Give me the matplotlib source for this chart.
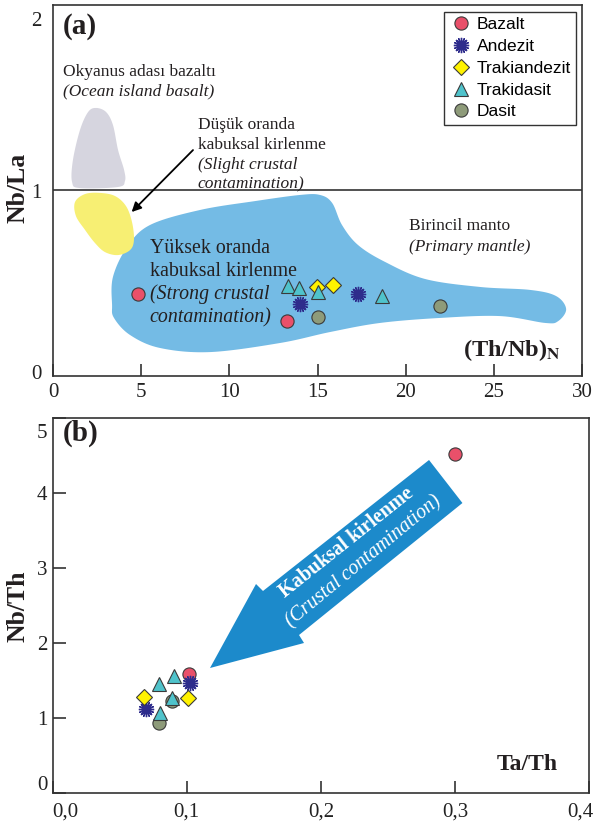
import numpy as np
import matplotlib
matplotlib.use("Agg")
import matplotlib.pyplot as plt
from matplotlib.patches import Polygon
from matplotlib.lines import Line2D
from matplotlib.transforms import ScaledTranslation

# ---------------- data ----------------
groups = ["Bazalt", "Andezit", "Trakiandezit", "Trakidasit", "Dasit"]

# panel (a): (Th/Nb)N vs Nb/La
a_bazalt_x = [4.84, 13.26]
a_bazalt_y = [0.442, 0.298]
a_andezit_x = [14.01, 17.32]
a_andezit_y = [0.387, 0.442]
a_trakiandezit_x = [14.99, 15.90]
a_trakiandezit_y = [0.478, 0.492]
a_trakidasit_x = [13.35, 13.97, 15.05, 18.64]
a_trakidasit_y = [0.485, 0.473, 0.451, 0.431]
a_dasit_x = [15.05, 21.95]
a_dasit_y = [0.320, 0.379]

# panel (b): Ta/Th vs Nb/Th
b_bazalt_x = [0.1017, 0.300]
b_bazalt_y = [1.587, 4.52]
b_andezit_x = [0.1024, 0.0694]
b_andezit_y = [1.462, 1.12]
b_trakiandezit_x = [0.0681, 0.1007]
b_trakiandezit_y = [1.276, 1.262]
b_trakidasit_x = [0.0907, 0.0795, 0.0888, 0.080]
b_trakidasit_y = [1.564, 1.453, 1.262, 1.07]
b_dasit_x = [0.0888, 0.0795]
b_dasit_y = [1.23, 0.929]

a_xticks = [0, 5, 10, 15, 20, 25, 30]
a_yticks = [0, 1, 2]
b_xticks = [0.0, 0.1, 0.2, 0.3, 0.4]
b_xticklabels = ["0,0", "0,1", "0,2", "0,3", "0,4"]
b_yticks = [0, 1, 2, 3, 4, 5]

# field outlines in data units of panel (a)
oib_x = [2.44, 3.01, 3.40, 3.69, 4.03, 4.08, 3.69, 1.53, 1.08, 1.13, 1.53, 1.99]
oib_y = [1.445, 1.423, 1.353, 1.218, 1.111, 1.051, 1.019, 1.013, 1.046, 1.164, 1.326, 1.423]
slight_x = [2.67, 3.52, 4.14, 4.48, 4.59, 4.37, 3.69, 2.95, 2.38, 1.82, 1.30, 1.25, 1.82]
slight_y = [0.987, 0.970, 0.916, 0.830, 0.733, 0.679, 0.652, 0.668, 0.717, 0.787, 0.863, 0.938, 0.981]
strong_x = [3.35, 3.40, 4.20, 5.50, 8.34, 11.46, 14.01, 15.14, 15.83, 16.39, 17.30, 18.83,
            21.10, 24.22, 27.06, 28.53, 29.10, 28.65, 27.91, 25.35, 21.95, 18.55, 15.71,
            12.88, 8.91, 6.07, 4.37, 3.46]
strong_y = [0.383, 0.534, 0.695, 0.814, 0.895, 0.943, 0.976, 0.976, 0.933, 0.814, 0.706, 0.615,
            0.523, 0.480, 0.464, 0.431, 0.361, 0.296, 0.286, 0.323, 0.313, 0.286, 0.237,
            0.178, 0.129, 0.151, 0.221, 0.313]

# contamination arrow of panel (b), in axes fractions
arrow_fx = [0.2933, 0.3791, 0.3921, 0.7017, 0.7640, 0.4593, 0.4686]
arrow_fy = [0.3333, 0.5573, 0.5387, 0.8880, 0.7733, 0.4213, 0.4000]

# ---------------- style ----------------
SERIF = ["Liberation Serif", "DejaVu Serif"]
SANS = ["Liberation Sans", "DejaVu Sans"]
plt.rcParams["font.family"] = SERIF
plt.rcParams["mathtext.fontset"] = "stix"
EDGE = "#3a3a3a"

styles = {
    "Bazalt": dict(marker="o", ms=9.5, mfc="#E9506A", mec=EDGE, mew=0.8),
    "Andezit": dict(marker=(16, 2, 0), ms=11, mfc="#2E2C8C", mec="#2E2C8C", mew=1.0),
    "Trakiandezit": dict(marker="D", ms=8.5, mfc="#FFF200", mec=EDGE, mew=0.8),
    "Trakidasit": dict(marker="^", ms=10, mfc="#4FC3CB", mec=EDGE, mew=0.8),
    "Dasit": dict(marker="o", ms=9.5, mfc="#8E9B7A", mec=EDGE, mew=0.8),
}


def smooth_closed(xs, ys, n=24):
    p = np.column_stack([xs, ys]).astype(float)
    N = len(p)
    t = np.linspace(0, 1, n, endpoint=False)[:, None]
    out = []
    for i in range(N):
        p0, p1, p2, p3 = p[i - 1], p[i], p[(i + 1) % N], p[(i + 2) % N]
        seg = 0.5 * ((2 * p1) + (-p0 + p2) * t + (2 * p0 - 5 * p1 + 4 * p2 - p3) * t ** 2
                     + (-p0 + 3 * p1 - 3 * p2 + p3) * t ** 3)
        out.append(seg)
    return np.vstack(out)


def shift_label(fig, lab, dx_px, dy_px):
    lab.set_transform(lab.get_transform() +
                      ScaledTranslation(dx_px / fig.dpi, dy_px / fig.dpi, fig.dpi_scale_trans))


W, H = 596, 830
fig = plt.figure(figsize=(W / 100, H / 100), dpi=100)
ax1 = fig.add_axes([53 / W, 1 - 376 / H, (582 - 53) / W, (376 - 5) / H])
ax2 = fig.add_axes([52.7 / W, 1 - 793 / H, (589 - 52.7) / W, (793 - 418) / H])

for ax in (ax1, ax2):
    for s in ax.spines.values():
        s.set_color("#333333")
        s.set_linewidth(1.2)
    ax.tick_params(direction="in", length=9, width=1.2, color="#333333",
                   labelsize=15, labelcolor="#222222")

# ---------------- panel (a) ----------------
ax1.set_xlim(0, 30)
ax1.set_ylim(0, 2)
ax1.add_patch(Polygon(smooth_closed(strong_x, strong_y), closed=True, fc="#74BBE5", ec="none", zorder=1))
ax1.add_patch(Polygon(smooth_closed(oib_x, oib_y), closed=True, fc="#D6D5DF", ec="none", zorder=1))
ax1.add_patch(Polygon(smooth_closed(slight_x, slight_y), closed=True, fc="#F7EF73", ec="none", zorder=1))
ax1.axhline(1, color="#222222", lw=1.1, zorder=2)

ax1.set_xticks(a_xticks)
ax1.set_xticklabels([str(v) for v in a_xticks])
ax1.set_yticks(a_yticks)
ax1.set_yticklabels([str(v) for v in a_yticks])
ax1.tick_params(axis="y", length=0, pad=8)
ax1.tick_params(axis="x", pad=5)

ax1.annotate("", xy=(4.46, 0.884), xytext=(7.94, 1.218),
             arrowprops=dict(arrowstyle="-|>", color="black", lw=1.3,
                             mutation_scale=14, shrinkA=0, shrinkB=0), zorder=3)

a_series = {
    "Bazalt": (a_bazalt_x, a_bazalt_y),
    "Andezit": (a_andezit_x, a_andezit_y),
    "Trakiandezit": (a_trakiandezit_x, a_trakiandezit_y),
    "Trakidasit": (a_trakidasit_x, a_trakidasit_y),
    "Dasit": (a_dasit_x, a_dasit_y),
}
for g in groups:
    xs, ys = a_series[g]
    ax1.plot(xs, ys, ls="none", zorder=4, label=g, **styles[g])

tc = "#231F20"
ax1.text(0.019, 0.943, "(a)", transform=ax1.transAxes, fontsize=21, fontweight="bold",
         ha="left", va="center", color=tc)
ax1.text(0.019, 0.820, "Okyanus adası bazaltı", transform=ax1.transAxes, fontsize=12.5,
         ha="left", va="center", color=tc)
ax1.text(0.019, 0.768, "(Ocean island basalt)", transform=ax1.transAxes, fontsize=12.5,
         style="italic", ha="left", va="center", color=tc)
for i, (s, it) in enumerate([("Düşük oranda", False), ("kabuksal kirlenme", False),
                             ("(Slight crustal", True), ("contamination)", True)]):
    ax1.text(0.274, 0.677 - i * 0.0535, s, transform=ax1.transAxes, fontsize=12.5,
             style="italic" if it else "normal", ha="left", va="center", color=tc)
for i, (s, it) in enumerate([("Yüksek oranda", False), ("kabuksal kirlenme", False),
                             ("(Strong crustal", True), ("contamination)", True)]):
    ax1.text(0.183, 0.345 - i * 0.0625, s, transform=ax1.transAxes, fontsize=14.3,
             style="italic" if it else "normal", ha="left", va="center", color=tc)
ax1.text(0.673, 0.404, "Birincil manto", transform=ax1.transAxes, fontsize=12.5,
         ha="left", va="center", color=tc)
ax1.text(0.673, 0.348, "(Primary mantle)", transform=ax1.transAxes, fontsize=12.5,
         style="italic", ha="left", va="center", color=tc)
ax1.text(0.775, 0.07, r"(Th/Nb)$_{\mathbf{N}}$", transform=ax1.transAxes, fontsize=17.5,
         fontweight="bold", ha="left", va="center", color=tc)

handles = [Line2D([], [], ls="none", **styles[g]) for g in groups]
leg = ax1.legend(handles, groups, loc="upper right", bbox_to_anchor=(0.9887, 0.981),
                 frameon=True, fancybox=False, edgecolor="#333333", framealpha=1,
                 prop=dict(family=SANS, size=12.5), handlelength=1.38, handletextpad=0.2,
                 labelspacing=0.38, borderpad=0.3, borderaxespad=0)
leg.get_frame().set_linewidth(1.0)

fig.text(18 / W, 1 - 188 / H, "Nb/La", rotation=90, fontsize=18.5, fontweight="bold",
         ha="center", va="center", color=tc)

# ---------------- panel (b) ----------------
ax2.set_xlim(0, 0.4)
ax2.set_ylim(0, 5)
ax2.set_xticks(b_xticks)
ax2.set_xticklabels(b_xticklabels)
ax2.set_yticks(b_yticks)
ax2.set_yticklabels([str(v) for v in b_yticks])
ax2.tick_params(axis="x", pad=7)
ax2.tick_params(axis="y", pad=4)

ax2.add_patch(Polygon(np.column_stack([arrow_fx, arrow_fy]), closed=True,
                      transform=ax2.transAxes, fc="#1C8ACB", ec="none", zorder=1))
ax2.text(0.5479, 0.6667, "Kabuksal kirlenme", transform=ax2.transAxes, rotation=38.5,
         fontsize=14.5, fontweight="bold", color="white", ha="center", va="center",
         rotation_mode="anchor")
ax2.text(0.5795, 0.616, "(Crustal contamination)", transform=ax2.transAxes, rotation=39.5,
         fontsize=14.5, style="italic", color="white", ha="center", va="center",
         rotation_mode="anchor")

b_series = {
    "Bazalt": (b_bazalt_x, b_bazalt_y),
    "Andezit": (b_andezit_x, b_andezit_y),
    "Trakiandezit": (b_trakiandezit_x, b_trakiandezit_y),
    "Trakidasit": (b_trakidasit_x, b_trakidasit_y),
    "Dasit": (b_dasit_x, b_dasit_y),
}
b_order = ["Dasit", "Trakidasit", "Bazalt", "Andezit", "Trakiandezit"]
for g in b_order:
    xs, ys = b_series[g]
    ax2.plot(xs, ys, ls="none", zorder=4, **styles[g])

ax2.text(0.019, 0.96, "(b)", transform=ax2.transAxes, fontsize=21, fontweight="bold",
         ha="left", va="center", color=tc)
ax2.text(0.828, 0.077, "Ta/Th", transform=ax2.transAxes, fontsize=17, fontweight="bold",
         ha="left", va="center", color=tc)
fig.text(18 / W, 1 - 606 / H, "Nb/Th", rotation=90, fontsize=18.5, fontweight="bold",
         ha="center", va="center", color=tc)

# tick-label nudges as in the original drawing
fig.canvas.draw()
shift_label(fig, ax1.get_yticklabels()[-1], 0, -14)
shift_label(fig, ax1.get_yticklabels()[0], 0, 4)
shift_label(fig, ax2.get_yticklabels()[-1], 0, -13)
shift_label(fig, ax2.get_yticklabels()[0], 0, 10)
xl = ax2.get_xticklabels()
xl[0].set_horizontalalignment("left")
xl[-1].set_horizontalalignment("right")
shift_label(fig, xl[-1], 4, 0)

fig.savefig("out.png", dpi=100)
